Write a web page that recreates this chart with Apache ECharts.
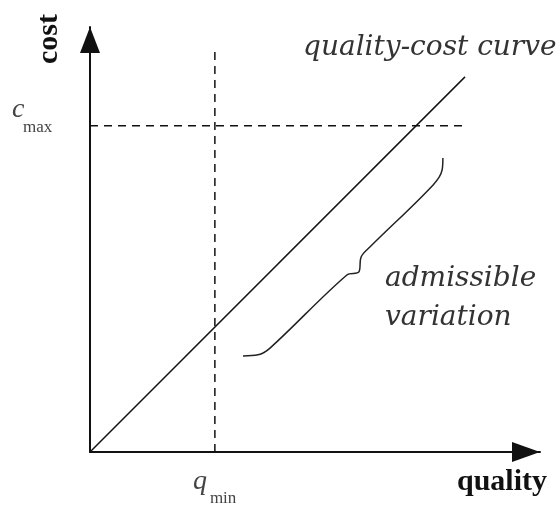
<!DOCTYPE html>
<html>
<head>
<meta charset="utf-8">
<script src="https://cdn.jsdelivr.net/npm/echarts@6/dist/echarts.min.js"></script>
<style>
  html, body { margin: 0; padding: 0; background: #fff; }
  #chart { width: 560px; height: 507px; }
</style>
</head>
<body>
<div id="chart"></div>
<script>
// values (quality / cost units)
const qMin = 3.33
const cMax = 8.7
const curve = [[0, 0], [10, 10]]
const costLimit = [[0, cMax], [9.92, cMax]]
const qualityLimit = [[qMin, 0], [qMin, 10.8]]
const brace = [
  [4.08, 2.56], [4.48, 2.59], [4.8, 2.77], [6.85, 4.72], [7.17, 4.8],
  [7.23, 5.2], [7.47, 5.47], [9.15, 7.12], [9.39, 7.52], [9.41, 7.84]
]
const axisNames = ['quality', 'cost']
const notes = ['quality-cost curve', 'admissible', 'variation']

const chart = echarts.init(document.getElementById('chart'))

const ink = '#111'
const dashed = { color: ink, width: 1.5, type: [8, 6] }

const axisBase = (size, offset) => ({
  type: 'value',
  min: 0,
  splitLine: { show: false },
  axisTick: { show: false },
  axisLabel: { show: false },
  axisLine: {
    show: true,
    symbol: ['none', 'triangle'],
    symbolSize: size,
    symbolOffset: [0, offset],
    lineStyle: { color: ink, width: 2 }
  }
})

const lineSeries = (data, style, extra) => Object.assign({
  type: 'line',
  data,
  symbol: 'none',
  silent: true,
  animation: false,
  lineStyle: style
}, extra || {})

chart.setOption({
  animation: false,
  grid: { left: 90, right: 20, top: 27, bottom: 55 },
  xAxis: Object.assign(axisBase([20, 28], -14), { max: 12 }),
  yAxis: Object.assign(axisBase([20, 26], -13), { max: 11.33 }),
  series: [
    lineSeries(curve, { color: ink, width: 1.5 }),
    lineSeries(costLimit, dashed),
    lineSeries(qualityLimit, dashed),
    lineSeries(brace, { color: '#222', width: 1.5 }, { smooth: 0.35 })
  ]
})

// labels placed relative to the data through the axes
const pC = chart.convertToPixel({ gridIndex: 0 }, [0, cMax])
const pQ = chart.convertToPixel({ gridIndex: 0 }, [qMin, 0])
const serif = '"Liberation Serif", "Times New Roman", serif'
const slab = '"DejaVu Serif", serif'

const txt = (x, y, text, font, extra) => Object.assign({
  type: 'text',
  x, y,
  silent: true,
  style: Object.assign({ text, font, fill: ink, verticalAlign: 'middle', align: 'left' }, extra || {})
})

chart.setOption({
  graphic: [
    txt(pC[0] - 78, pC[1] - 16, 'c', 'italic 28px ' + serif, { fill: '#444' }),
    txt(pC[0] - 67, pC[1] + 2, 'max', '17px ' + serif, { fill: '#444' }),
    txt(pQ[0] - 22, pQ[1] + 30, 'q', 'italic 28px ' + serif, { fill: '#444' }),
    txt(pQ[0] - 5, pQ[1] + 47, 'min', '17px ' + serif, { fill: '#444' }),
    txt(457, 482, axisNames[0], 'bold 30px ' + serif),
    Object.assign(txt(49, 39, axisNames[1], 'bold 30px ' + serif, { align: 'center' }), { rotation: Math.PI / 2 }),
    txt(303, 48, notes[0], 'italic 28px ' + slab, { fill: '#333' }),
    txt(385, 279, notes[1], 'italic 28px ' + slab, { fill: '#333' }),
    txt(385, 318, notes[2], 'italic 28px ' + slab, { fill: '#333' })
  ]
})
</script>
</body>
</html>
